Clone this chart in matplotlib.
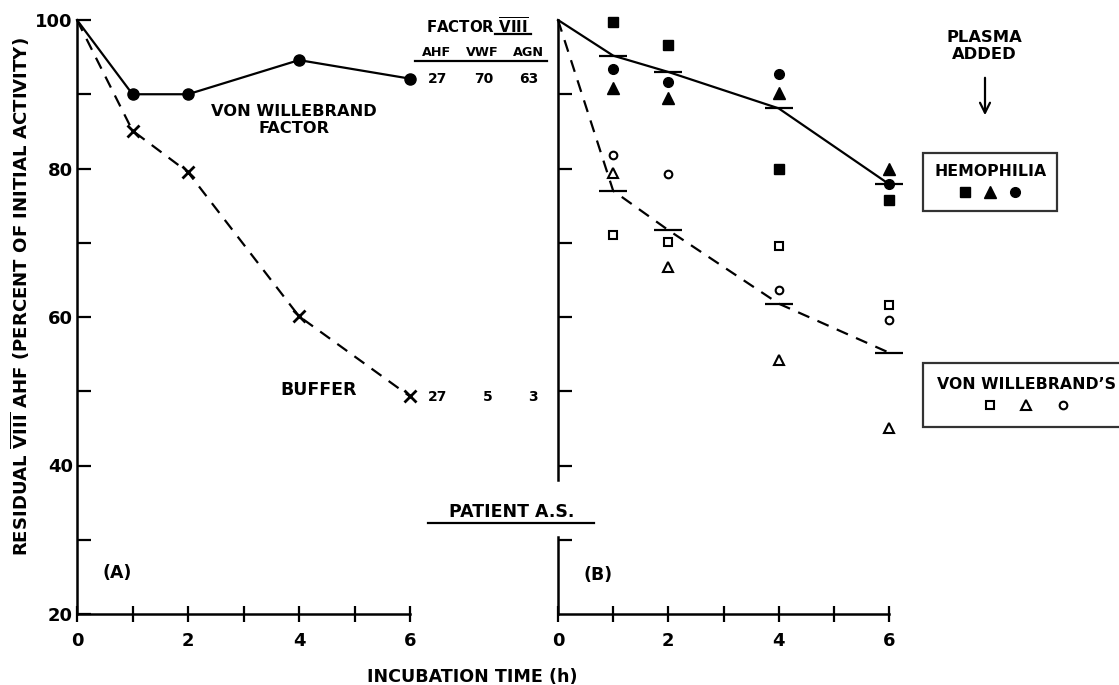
import matplotlib
matplotlib.use('Agg')
import matplotlib.pyplot as plt
from matplotlib.lines import Line2D
from matplotlib.transforms import Affine2D
from matplotlib.ticker import MultipleLocator

plt.rcParams['font.family'] = ['DejaVu Sans']
plt.rcParams['font.weight'] = 'bold'
plt.rcParams['mathtext.fontset'] = 'custom'
plt.rcParams['mathtext.rm'] = 'DejaVu Sans:bold'
plt.rcParams['mathtext.bf'] = 'DejaVu Sans:bold'

# panel A: factor VIII incubated with VWF or buffer
t_a = [0, 1, 2, 4, 6]
vwf_a = [100, 90.0, 90.0, 94.6, 92.1]
buffer_a = [100, 85.1, 79.5, 60.1, 49.3]

# factor VIII table at 6 h
tab_head = ['AHF', 'VWF', 'AGN']
tab_vwf = ['27', '70', '63']
tab_buf = ['27', '5', '3']

# panel B: patient A.S. plasma added
t_b = [1, 2, 4, 6]
hem_sq = [99.7, 96.6, 79.9, 75.8]
hem_tri = [90.9, 89.5, 90.2, 80.0]
hem_circ = [93.4, 91.7, 92.7, 77.9]
vw_sq = [71.1, 70.1, 69.5, 61.6]
vw_tri = [79.4, 66.8, 54.2, 45.0]
vw_circ = [81.8, 79.3, 63.7, 59.6]
t_mean = [0, 1, 2, 4, 6]
hem_mean = [100, 95.2, 93.0, 88.1, 77.9]
vw_mean = [100, 77.0, 71.7, 61.8, 55.2]

W, H = 1119, 685
fig = plt.figure(figsize=(W / 100, H / 100), dpi=100)
# pixel coords, origin top-left (for layout of annotations)
px = Affine2D().scale(1 / W, -1 / H).translate(0, 1) + fig.transFigure

axA = fig.add_axes([77 / W, (H - 614) / H, 333 / W, 594 / H])
axB = fig.add_axes([558 / W, (H - 614) / H, 331 / W, 594 / H])

dash = (0, (5.5, 4))
lw = 1.6

# ---- panel A
axA.plot(t_a, vwf_a, '-', color='k', lw=lw, marker='o', ms=8,
         markevery=slice(1, None), clip_on=False)
axA.plot(t_a, buffer_a, color='k', lw=lw, ls=dash, marker='x', ms=8, mew=2,
         markevery=slice(1, None), clip_on=False)

# ---- panel B
axB.plot(t_mean, hem_mean, '-', color='k', lw=lw, clip_on=False)
axB.plot(t_mean, vw_mean, color='k', lw=lw, ls=dash, clip_on=False)
axB.plot(t_b, hem_mean[1:], ls='none', marker='_', ms=20, mew=1.6, color='k', clip_on=False)
axB.plot(t_b, vw_mean[1:], ls='none', marker='_', ms=20, mew=1.6, color='k', clip_on=False)

hem_sq_h, = axB.plot(t_b, hem_sq, ls='none', marker='s', ms=7, color='k', clip_on=False)
hem_tri_h, = axB.plot(t_b, hem_tri, ls='none', marker='^', ms=8, color='k', clip_on=False)
hem_circ_h, = axB.plot(t_b, hem_circ, ls='none', marker='o', ms=7, color='k', clip_on=False)
vw_sq_h, = axB.plot(t_b, vw_sq, ls='none', marker='s', ms=5.5, mfc='white', mec='k',
                    mew=1.5, clip_on=False)
vw_tri_h, = axB.plot(t_b, vw_tri, ls='none', marker='^', ms=7.5, mfc='white', mec='k',
                     mew=1.5, clip_on=False)
vw_circ_h, = axB.plot(t_b, vw_circ, ls='none', marker='o', ms=5.5, mfc='white', mec='k',
                      mew=1.5, clip_on=False)

for ax in (axA, axB):
    ax.set_xlim(0, 6)
    ax.set_ylim(20, 100)
    ax.spines['top'].set_visible(False)
    ax.spines['right'].set_visible(False)
    ax.spines['left'].set_linewidth(1.8)
    ax.spines['bottom'].set_linewidth(1.8)
    ax.patch.set_visible(False)
    ax.xaxis.set_major_locator(MultipleLocator(2))
    ax.xaxis.set_minor_locator(MultipleLocator(1))
    ax.tick_params(axis='x', which='both', direction='inout', length=12,
                   width=1.6, pad=7, labelsize=13)
    ax.tick_params(axis='y', which='both', direction='in', length=10,
                   width=1.6, pad=3, labelsize=13)

axA.yaxis.set_major_locator(MultipleLocator(20))
axA.yaxis.set_minor_locator(MultipleLocator(10))

axB.set_yticks([30, 40, 50, 60, 70, 80, 90])
axB.set_yticklabels([])
axB.spines['left'].set_bounds(38.1, 100)
axB.plot([0, 0], [20, 30.4], color='k', lw=1.8, clip_on=False)

axA.set_ylabel(r'RESIDUAL $\overline{\mathrm{VIII}}$ AHF (PERCENT OF INITIAL ACTIVITY)',
               fontsize=13.1, fontweight='bold')
axA.yaxis.set_label_coords(-0.135, 0.535)

fig.text(472, 677, 'INCUBATION TIME (h)', transform=px, ha='center', va='center',
         fontsize=12.6)

# panel A annotations
fig.text(294, 120, 'VON WILLEBRAND\nFACTOR', transform=px, ha='center',
         va='center', fontsize=11.7, linespacing=1.15)
fig.text(319, 390, 'BUFFER', transform=px, ha='center', va='center', fontsize=12.5)
fig.text(117, 573, '(A)', transform=px, ha='center', va='center', fontsize=12.5)
fig.text(598, 575, '(B)', transform=px, ha='center', va='center', fontsize=12.5)

fig.text(477, 27, r'FACTOR $\overline{\mathrm{VIII}}$', transform=px, ha='center',
         va='center', fontsize=10.8)
fig.add_artist(Line2D([495, 531], [34, 34], transform=px, color='k', lw=1.6))
for xc, lab in zip([437, 482, 528], tab_head):
    fig.text(xc, 53, lab, transform=px, ha='center', va='center', fontsize=9.2)
fig.add_artist(Line2D([415, 547], [61, 61], transform=px, color='k', lw=1.6))
for xr, v1, v2 in zip([447, 493, 538], tab_vwf, tab_buf):
    fig.text(xr, 79, v1, transform=px, ha='right', va='center', fontsize=10)
    fig.text(xr, 397, v2, transform=px, ha='right', va='center', fontsize=10)

# patient label between panels
fig.text(512, 512, 'PATIENT A.S.', transform=px, ha='center', va='center',
         fontsize=12.5)
fig.add_artist(Line2D([428, 594], [523, 523], transform=px, color='k', lw=1.6))

# plasma added + arrow
fig.text(984, 46, 'PLASMA\nADDED', transform=px, ha='center', va='center',
         fontsize=11.8, linespacing=1.2)
axB.annotate('', xy=(985, 118), xytext=(985, 75), xycoords=px, textcoords=px,
             arrowprops=dict(arrowstyle='->', lw=1.6, color='k',
                             mutation_scale=18))

# legends
legH = axB.legend([hem_sq_h, hem_tri_h, hem_circ_h], ['', '', ''], ncol=3,
                  title='HEMOPHILIA', loc='upper left', bbox_to_anchor=(923, 153),
                  bbox_transform=px, frameon=True, fancybox=False,
                  handlelength=1.0, handletextpad=0.0, columnspacing=0.8,
                  borderpad=0.8, title_fontsize=11.3, borderaxespad=0)
legH.get_frame().set_edgecolor('k')
legH.get_frame().set_linewidth(1.6)
axB.add_artist(legH)

legV = axB.legend([vw_sq_h, vw_tri_h, vw_circ_h], ['', '', ''], ncol=3,
                  title='VON WILLEBRAND\u2019S', loc='upper left',
                  bbox_to_anchor=(923, 363), bbox_transform=px, frameon=True,
                  fancybox=False, handlelength=1.0, handletextpad=0.0,
                  columnspacing=1.6, borderpad=1.0, title_fontsize=11.3,
                  borderaxespad=0)
legV.get_frame().set_edgecolor('k')
legV.get_frame().set_linewidth(1.6)

fig.savefig('out.png', dpi=100)
